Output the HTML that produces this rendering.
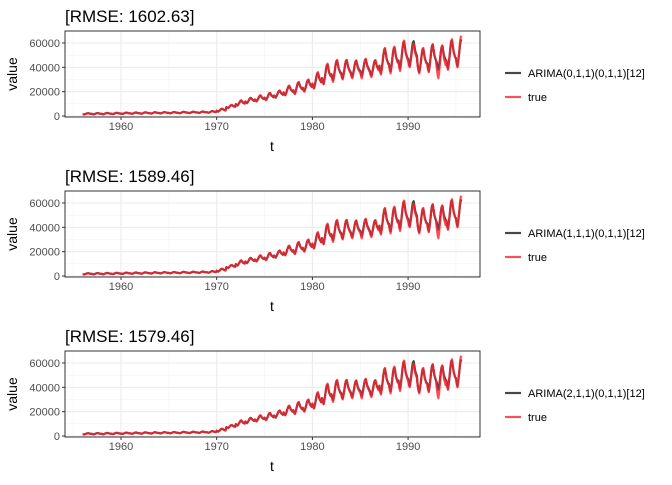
<!DOCTYPE html>
<html><head><meta charset="utf-8"><style>
body{margin:0;background:#fff;font-family:"Liberation Sans",sans-serif}
svg text{font-family:"Liberation Sans",sans-serif}
</style></head><body>
<svg id="c" width="672" height="480" xmlns="http://www.w3.org/2000/svg"></svg>
<script>
const years=[1956,1957,1958,1959,1960,1961,1962,1963,1964,1965,1966,1967,1968,1969,1970,1971,1972,1973,1974,1975,1976,1977,1978,1979,1980,1981,1982,1983,1984,1985,1986,1987,1988,1989,1990,1991,1992,1993,1994,1995];
const trueLow=[1300,1400,1500,1600,1700,1800,1900,2000,2100,2200,2300,2400,2500,2700,3500,6500,8500,10500,12000,13000,15000,17000,18000,20000,22500,26000,28000,30000,31000,31000,32000,34000,35000,37000,40000,35000,36000,31000,38000,40000];
const trueHigh=[2300,2400,2500,2600,2800,2900,3000,3100,3200,3300,3400,3500,3700,4000,6000,9000,13000,15000,17000,19000,21000,25000,28000,30000,36000,43000,46000,46000,45000,47000,46000,56000,57000,62000,59000,56000,59000,58000,63000,66000];
const fitLow=[1300,1400,1500,1600,1700,1800,1900,2000,2100,2200,2300,2400,2500,2700,3600,6600,8600,10800,12200,13400,15200,17200,18500,20500,23000,26500,29500,31000,32000,33000,33500,35500,37000,39000,41000,36000,37000,38000,39000,41000];
const fitHigh=[2300,2400,2500,2600,2800,2900,3000,3100,3200,3300,3400,3500,3700,4000,6000,9000,12500,14800,16800,18800,20800,24500,27500,29500,35000,42000,45500,46000,45500,46500,45500,55000,56000,61000,61500,55000,58500,57500,62000,63000];
const season=[0.3,0.1,0,0.2,0.45,0.75,0.95,1,0.8,0.6,0.5,0.4];
const lastMonth=7;
const models=["ARIMA(0,1,1)(0,1,1)[12]","ARIMA(1,1,1)(0,1,1)[12]","ARIMA(2,1,1)(0,1,1)[12]"];
const rmse=["1602.63","1589.46","1579.46"];
const xTicks=[1960,1970,1980,1990];
const yTicks=[0,20000,40000,60000];
const NS="http://www.w3.org/2000/svg";
const svg=document.getElementById('c');
function el(t,a,p){const e=document.createElementNS(NS,t);for(const k in a)e.setAttribute(k,a[k]);(p||svg).appendChild(e);return e;}
const X0=65,X1=480;
const xs=t=>121+(t-1960)*9.57;
function series(lo,hi){const pts=[];years.forEach((y,i)=>{season.forEach((s,m)=>{if(i===years.length-1&&m>lastMonth)return;pts.push([y+m/12,lo[i]+(hi[i]-lo[i])*s]);});});return pts;}
const tser=series(trueLow,trueHigh), fser=series(fitLow,fitHigh);
for(let p=0;p<3;p++){
  const off=p*160, top=31+off, bot=117+off;
  const ys=v=>116+off-v*(73/60000);
  const g=el('g',{});
  
  
  const ti=el('text',{x:65,y:22+off,'font-size':17,fill:'#000'},g);ti.textContent='[RMSE: '+rmse[p]+']';
  
  el('rect',{x:X0,y:top,width:X1-X0,height:bot-top,fill:'#fff'},g);
  [1955,1965,1975,1985,1995].forEach(t=>el('line',{x1:xs(t),x2:xs(t),y1:top,y2:bot,stroke:'#f2f2f2','stroke-width':0.6},g));
  [10000,30000,50000].forEach(v=>el('line',{x1:X0,x2:X1,y1:ys(v),y2:ys(v),stroke:'#f2f2f2','stroke-width':0.6},g));
  xTicks.forEach(t=>{el('line',{x1:xs(t),x2:xs(t),y1:top,y2:bot,stroke:'#ebebeb','stroke-width':1.1},g);
    el('line',{x1:xs(t),x2:xs(t),y1:bot,y2:bot+3,stroke:'#333','stroke-width':1},g);
    const tx=el('text',{x:xs(t),y:bot+13,'font-size':11,fill:'#4d4d4d','text-anchor':'middle'},g);tx.textContent=t;
    });
  yTicks.forEach(v=>{el('line',{x1:X0,x2:X1,y1:ys(v),y2:ys(v),stroke:'#ebebeb','stroke-width':1.1},g);
    el('line',{x1:X0-3,x2:X0,y1:ys(v),y2:ys(v),stroke:'#333','stroke-width':1},g);
    const tx=el('text',{x:X0-5,y:ys(v)+4,'font-size':11,fill:'#4d4d4d','text-anchor':'end'},g);tx.textContent=v;
    });
  const fl=el('polyline',{points:fser.map(q=>xs(q[0]).toFixed(1)+','+ys(q[1]).toFixed(1)).join(' '),fill:'none',stroke:'#333','stroke-opacity':0.9,'stroke-width':2.2,'stroke-linejoin':'round'},g);
  
  const tl=el('polyline',{points:tser.map(q=>xs(q[0]).toFixed(1)+','+ys(q[1]).toFixed(1)).join(' '),fill:'none',stroke:'#f8232f','stroke-opacity':0.8,'stroke-width':2.2,'stroke-linejoin':'round'},g);
  
  el('rect',{x:X0,y:top,width:X1-X0,height:bot-top,fill:'none',stroke:'#333','stroke-width':1},g);
  const xl=el('text',{x:272,y:bot+34,'font-size':14,fill:'#000','text-anchor':'middle'},g);xl.textContent='t';
  
  const yl=el('text',{x:0,y:0,'font-size':14,fill:'#000','text-anchor':'middle',transform:'translate(17,'+(74+off)+') rotate(-90)'},g);yl.textContent='value';
  
  const lg=el('g',{},g);
  
  el('line',{x1:505,x2:521,y1:73+off,y2:73+off,stroke:'#333','stroke-opacity':0.9,'stroke-width':2.2},lg);
  const l1=el('text',{x:528,y:77+off,'font-size':11,fill:'#000'},lg);l1.textContent=models[p];
  
  el('line',{x1:505,x2:521,y1:97+off,y2:97+off,stroke:'#f8232f','stroke-opacity':0.8,'stroke-width':2.2},lg);
  const l2=el('text',{x:528,y:101+off,'font-size':11,fill:'#000'},lg);l2.textContent='true';
  
}
</script>
</body></html>
